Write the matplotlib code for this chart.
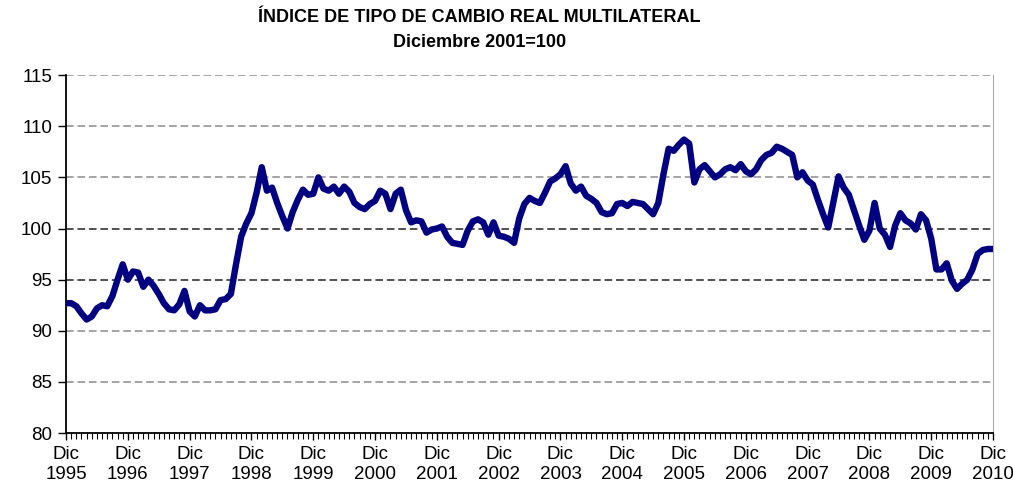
#!/usr/bin/env python3
# Indice de tipo de cambio real multilateral, monthly, Dec 1995 - Dec 2010
import numpy as np
import matplotlib
matplotlib.use('Agg')
import matplotlib.pyplot as plt
from matplotlib.ticker import MultipleLocator

# ------------------------------------------------------------------------------
# Data (one value per month starting Dic 1995)
# ------------------------------------------------------------------------------
itcrm = [
    92.7, 92.7, 92.4, 91.7, 91.1, 91.4, 92.2, 92.5, 92.4, 93.4, 95.0, 96.5,
    95.0, 95.8, 95.7, 94.3, 95.0, 94.4, 93.6, 92.7, 92.1, 92.0, 92.6, 93.9,
    91.9, 91.4, 92.5, 92.0, 92.0, 92.1, 93.0, 93.1, 93.6, 96.5, 99.2, 100.5,
    101.5, 103.5, 106.0, 103.7, 104.0, 102.5, 101.2, 100.0, 101.6, 102.8,
    103.8, 103.3,
    103.4, 105.0, 103.9, 103.7, 104.1, 103.4, 104.1, 103.6, 102.5, 102.1,
    101.9, 102.4,
    102.7, 103.7, 103.4, 101.9, 103.4, 103.8, 101.8, 100.6, 100.8, 100.7,
    99.6, 99.9,
    100.0, 100.2, 99.2, 98.6, 98.5, 98.4, 99.8, 100.7, 100.9, 100.6, 99.4,
    100.6,
    99.3, 99.2, 99.0, 98.6, 101.0, 102.4, 103.0, 102.7, 102.5, 103.5, 104.6,
    104.9,
    105.3, 106.1, 104.4, 103.7, 104.1, 103.2, 102.9, 102.5, 101.6, 101.4,
    101.5, 102.4,
    102.5, 102.2, 102.6, 102.5, 102.4, 101.9, 101.4, 102.5, 105.3, 107.8,
    107.6, 108.2,
    108.7, 108.3, 104.5, 105.8, 106.2, 105.6, 105.0, 105.3, 105.8, 106.0,
    105.7, 106.3,
    105.6, 105.3, 105.8, 106.7, 107.2, 107.4, 108.0, 107.8, 107.5, 107.2,
    105.0, 105.5,
    104.7, 104.3, 102.8, 101.4, 100.1, 102.6, 105.1, 104.0, 103.3, 101.8,
    100.3, 98.9,
    99.8, 102.5, 100.0, 99.4, 98.2, 100.3, 101.5, 100.8, 100.5, 99.9, 101.4,
    100.8,
    99.0, 96.0, 96.0, 96.6, 94.9, 94.1, 94.6, 95.0, 96.0, 97.5, 97.9, 98.0,
    98.0,
]
years = list(range(1995, 2011))
year_labels = ['Dic\n' + str(y) for y in years]
y_ticks = [80, 85, 90, 95, 100, 105, 110, 115]

# ------------------------------------------------------------------------------
# Plot
# ------------------------------------------------------------------------------
plt.rcParams['font.family'] = ['Liberation Sans', 'DejaVu Sans']

months = np.arange(len(itcrm))

fig = plt.figure(figsize=(10.13, 4.91), dpi=100)
ax = fig.add_axes([0.0652, 0.118, 0.9151, 0.729])

# gridlines
for yv in y_ticks[1:]:
    col = '#222222' if yv in (95, 100) else '#8c8c8c'
    ax.axhline(yv, color=col, lw=1.1, ls=(0, (5, 2.5)), zorder=1)

ax.plot(months, itcrm, color='#000080', lw=4.6, solid_joinstyle='round',
        solid_capstyle='round', zorder=3)

ax.set_xlim(0, len(itcrm) - 1)
ax.set_ylim(80, 115)
ax.set_yticks(y_ticks)
ax.set_xticks(np.arange(0, len(itcrm), 12))
ax.set_xticklabels(year_labels, fontsize=13.5, linespacing=1.25)
ax.xaxis.set_minor_locator(MultipleLocator(1))
ax.tick_params(axis='y', labelsize=13.5, length=6, width=1, pad=4)
ax.tick_params(axis='x', which='major', length=5, width=1, pad=4)
ax.tick_params(axis='x', which='minor', length=4, width=0.8)

ax.spines['top'].set_visible(False)
ax.spines['right'].set_color('#aaaaaa')
ax.spines['left'].set_linewidth(1.3)
ax.spines['bottom'].set_linewidth(1.3)

fig.text(0.473, 0.965, 'ÍNDICE DE TIPO DE CAMBIO REAL MULTILATERAL',
         ha='center', va='center', fontsize=13, fontweight='bold')
fig.text(0.473, 0.913, 'Diciembre 2001=100',
         ha='center', va='center', fontsize=13, fontweight='bold')

plt.savefig('out.png', dpi=100)
